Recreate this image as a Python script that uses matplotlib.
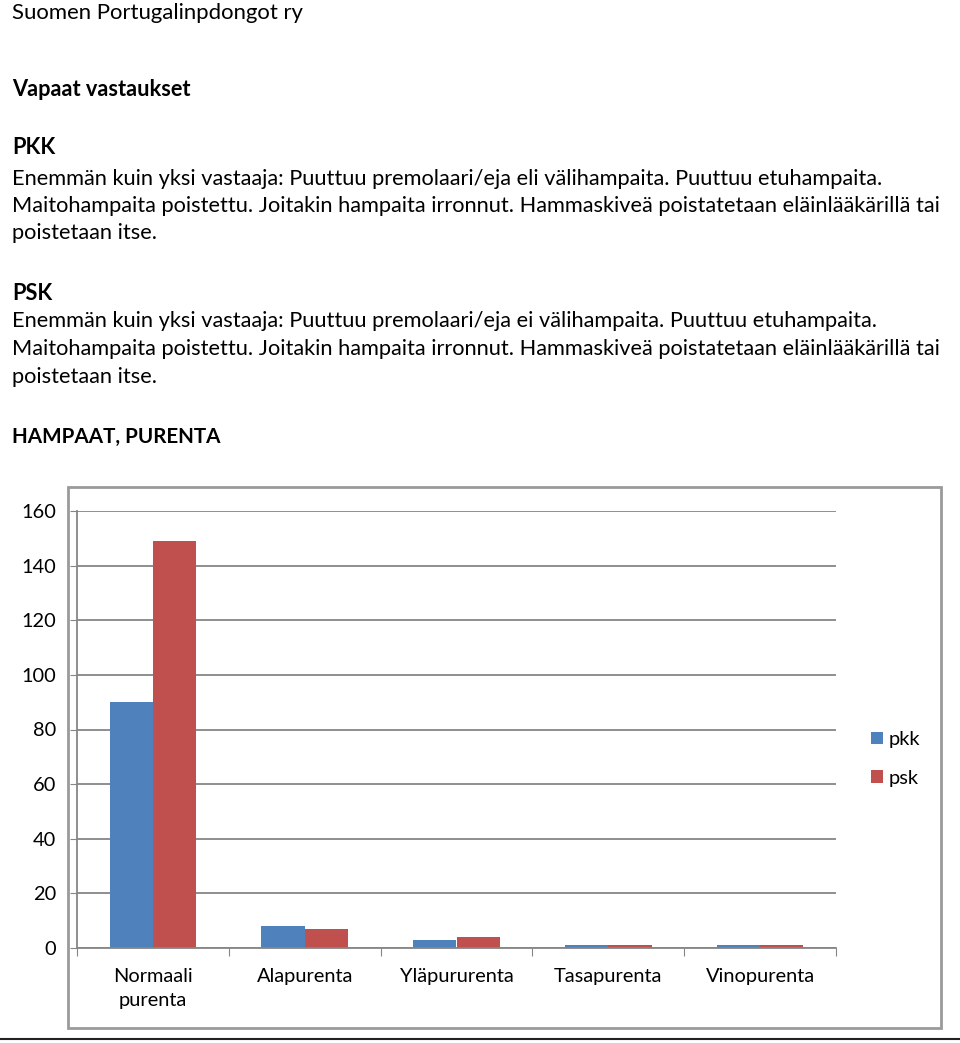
import matplotlib
matplotlib.use("Agg")
import matplotlib.pyplot as plt
import numpy as np

plt.rcParams['font.family'] = ['Lato', 'DejaVu Sans']

categories = ["Normaali\npurenta", "Alapurenta", "Yläpururenta", "Tasapurenta", "Vinopurenta"]
pkk = [90, 8, 3, 1, 1]
psk = [149, 7, 4, 1, 1]
yticks = list(range(0, 161, 20))

W, H = 960, 1043
fig = plt.figure(figsize=(W / 100, H / 100), dpi=100)


def py(y):
    return 1 - y / H


body = 15.7
lines = [
    ("Suomen Portugalinpdongot ry", 13, 15.9, "normal"),
    ("Vapaat vastaukset", 90, body, "bold"),
    ("PKK", 148, body, "bold"),
    ("Enemmän kuin yksi vastaaja: Puuttuu premolaari/eja eli välihampaita. Puuttuu etuhampaita.", 179, body, "normal"),
    ("Maitohampaita poistettu. Joitakin hampaita irronnut. Hammaskiveä poistatetaan eläinlääkärillä tai", 206, body, "normal"),
    ("poistetaan itse.", 233, body, "normal"),
    ("PSK", 293, body, "bold"),
    ("Enemmän kuin yksi vastaaja: Puuttuu premolaari/eja ei välihampaita. Puuttuu etuhampaita.", 321, body, "normal"),
    ("Maitohampaita poistettu. Joitakin hampaita irronnut. Hammaskiveä poistatetaan eläinlääkärillä tai", 349, body, "normal"),
    ("poistetaan itse.", 377, body, "normal"),
    ("HAMPAAT, PURENTA", 437, 14.9, "bold"),
]
for txt, y, fs, fw in lines:
    fig.text(12 / W, py(y), txt, fontsize=fs, fontweight=fw, va="center", ha="left", color="#000000")

# chart frame
frame = plt.Rectangle((68 / W, py(1028)), (941 - 68) / W, (1028 - 487) / H,
                      transform=fig.transFigure, fill=False, edgecolor="#9a9a9a", lw=2)
fig.patches.append(frame)
# page rule at bottom
fig.add_artist(plt.Line2D([0, 1], [py(1039), py(1039)], transform=fig.transFigure, color="#222222", lw=1.5))

ax = fig.add_axes([77 / W, py(948), (836 - 77) / W, (948 - 511) / H])
x = np.arange(len(categories))
bw = 0.285
ax.bar(x - bw / 2, pkk, bw, color="#4F81BD", label="pkk")
ax.bar(x + bw / 2, psk, bw, color="#C0504D", label="psk")

ax.set_xlim(-0.5, len(categories) - 0.5)
ax.set_ylim(0, 160)
ax.set_yticks(yticks)
ax.set_yticklabels([str(v) for v in yticks], fontsize=14.4)
ax.yaxis.grid(True, color="#868686", lw=1.3)
ax.set_axisbelow(True)
for s in ["top", "right"]:
    ax.spines[s].set_visible(False)
ax.spines["left"].set_color("#868686")
ax.spines["bottom"].set_color("#868686")
ax.spines["left"].set_linewidth(1.3)
ax.spines["bottom"].set_linewidth(1.3)
ax.tick_params(axis="y", length=5, color="#868686", pad=10)
ax.set_xticks(np.arange(len(categories) + 1) - 0.5)
ax.set_xticklabels([])
ax.tick_params(axis="x", length=6, color="#868686")
for i, c in enumerate(categories):
    ax.text(i, -7.5, c, ha="center", va="top", fontsize=14.4, linespacing=1.5,
            transform=ax.transData, clip_on=False)

ax.legend(loc="center left", bbox_to_anchor=(1.022, 0.433), frameon=False, fontsize=14.4,
          handlelength=0.6, handleheight=0.6, handletextpad=0.3, labelspacing=1.08)

fig.savefig("out.png", dpi=100)
